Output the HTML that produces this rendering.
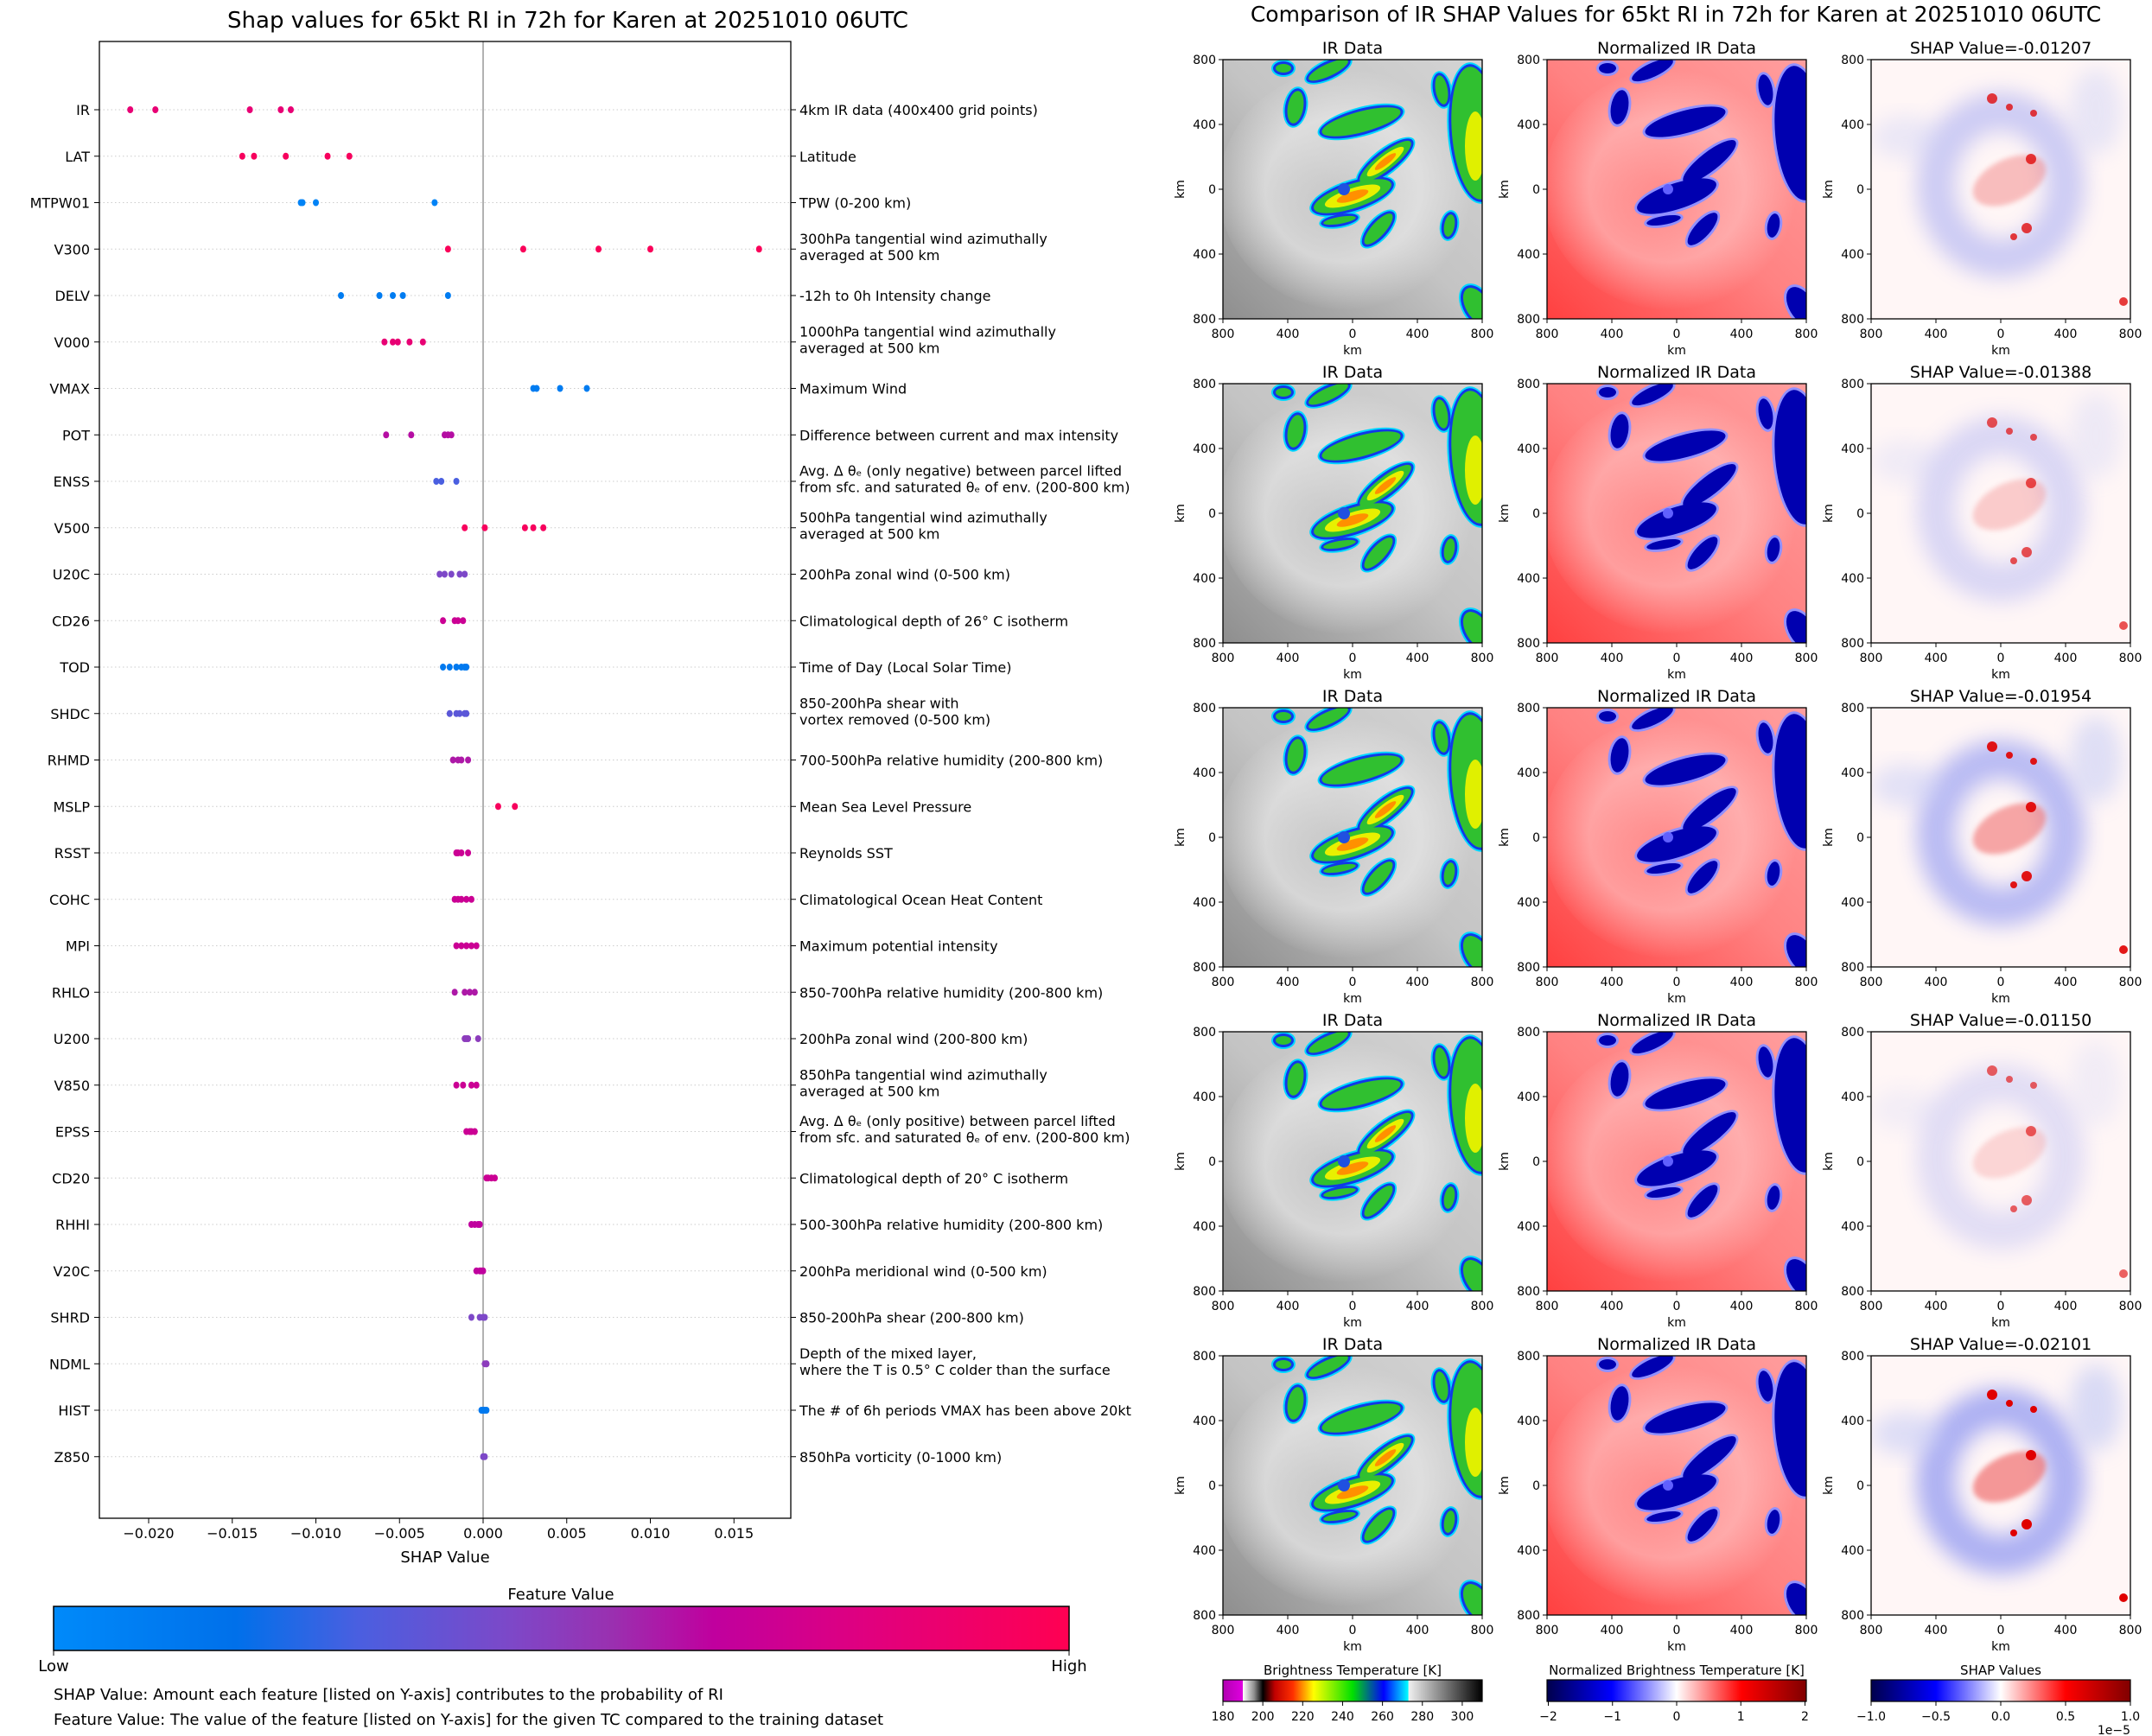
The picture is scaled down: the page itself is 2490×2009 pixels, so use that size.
<!DOCTYPE html>
<html><head><meta charset="utf-8"><style>
body{margin:0;background:#fff;}
svg{display:block;font-family:"DejaVu Sans","Liberation Sans",sans-serif;}
</style></head><body>
<svg id="root" width="2490" height="2009" viewBox="0 0 2490 2009" xmlns="http://www.w3.org/2000/svg">
<defs>
  <linearGradient id="fvgrad" x1="0" x2="1" y1="0" y2="0">
    <stop offset="0" stop-color="#008afa"/><stop offset="0.18" stop-color="#0070ea"/>
    <stop offset="0.3" stop-color="#4a5fe0"/><stop offset="0.45" stop-color="#7d48c8"/>
    <stop offset="0.55" stop-color="#9a30b0"/><stop offset="0.65" stop-color="#c0009e"/>
    <stop offset="0.8" stop-color="#e0007f"/><stop offset="1" stop-color="#ff0052"/>
  </linearGradient>
  <linearGradient id="irbg" x1="1" y1="0" x2="0" y2="1">
    <stop offset="0" stop-color="#d4d4d4"/><stop offset="0.5" stop-color="#c4c4c4"/><stop offset="1" stop-color="#8e8e8e"/>
  </linearGradient>
  <radialGradient id="irswirl" cx="0.48" cy="0.5" r="0.5">
    <stop offset="0" stop-color="#e6e6e6" stop-opacity="0.2"/><stop offset="0.6" stop-color="#e8e8e8" stop-opacity="0.7"/><stop offset="1" stop-color="#e8e8e8" stop-opacity="0"/>
  </radialGradient>
  <linearGradient id="nirbg" x1="1" y1="0" x2="0" y2="1">
    <stop offset="0" stop-color="#ff9e9e"/><stop offset="0.5" stop-color="#ff8282"/><stop offset="1" stop-color="#ff4040"/>
  </linearGradient>
  <radialGradient id="nirswirl" cx="0.48" cy="0.5" r="0.5">
    <stop offset="0" stop-color="#ffc0c0" stop-opacity="0.2"/><stop offset="0.6" stop-color="#ffc4c4" stop-opacity="0.6"/><stop offset="1" stop-color="#ffc4c4" stop-opacity="0"/>
  </radialGradient>
  <linearGradient id="ircb" x1="0" x2="1">
    <stop offset="0" stop-color="#b000b0"/><stop offset="0.077" stop-color="#e000e0"/>
    <stop offset="0.077" stop-color="#ffffff"/><stop offset="0.12" stop-color="#909090"/><stop offset="0.154" stop-color="#000"/>
    <stop offset="0.2" stop-color="#c00000"/><stop offset="0.27" stop-color="#ff3000"/><stop offset="0.35" stop-color="#ffff00"/>
    <stop offset="0.5" stop-color="#00e000"/><stop offset="0.62" stop-color="#0000ff"/><stop offset="0.715" stop-color="#00ffff"/>
    <stop offset="0.716" stop-color="#f0f0f0"/><stop offset="1" stop-color="#000"/>
  </linearGradient>
  <linearGradient id="seis" x1="0" x2="1">
    <stop offset="0" stop-color="#00004c"/><stop offset="0.25" stop-color="#0000ff"/><stop offset="0.5" stop-color="#ffffff"/>
    <stop offset="0.75" stop-color="#ff0000"/><stop offset="1" stop-color="#800000"/>
  </linearGradient>
  <filter id="blur" x="-30%" y="-30%" width="160%" height="160%"><feGaussianBlur stdDeviation="12"/></filter>
  <filter id="blur2" x="-30%" y="-30%" width="160%" height="160%"><feGaussianBlur stdDeviation="3"/></filter>
  <clipPath id="pclip"><rect x="0" y="0" width="300" height="300"/></clipPath>
</defs>

<text x="657" y="32" font-size="26" text-anchor="middle">Shap values for 65kt RI in 72h for Karen at 20251010 06UTC</text>
<g id="summary"></g>

<text x="649" y="1851" font-size="18" text-anchor="middle">Feature Value</text>
<rect x="62" y="1859" width="1175" height="51" fill="url(#fvgrad)" stroke="#000" stroke-width="1.5"/>
<line x1="62" y1="1910" x2="62" y2="1916" stroke="#000"/><line x1="1237" y1="1910" x2="1237" y2="1916" stroke="#000"/>
<text x="62" y="1934" font-size="18" text-anchor="middle">Low</text>
<text x="1237" y="1934" font-size="18" text-anchor="middle">High</text>
<text x="62" y="1967" font-size="18">SHAP Value: Amount each feature [listed on Y-axis] contributes to the probability of RI</text>
<text x="62" y="1996" font-size="18">Feature Value: The value of the feature [listed on Y-axis] for the given TC compared to the training dataset</text>

<text x="1939" y="25" font-size="25" text-anchor="middle">Comparison of IR SHAP Values for 65kt RI in 72h for Karen at 20251010 06UTC</text>
<g id="panels"></g>
<g id="cbars"></g>
</svg>
<script>
// ---- Summary plot data ----
const features = ["IR","LAT","MTPW01","V300","DELV","V000","VMAX","POT","ENSS","V500","U20C","CD26","TOD","SHDC","RHMD","MSLP","RSST","COHC","MPI","RHLO","U200","V850","EPSS","CD20","RHHI","V20C","SHRD","NDML","HIST","Z850"];
const descriptions = [
 ["4km IR data (400x400 grid points)"],["Latitude"],["TPW (0-200 km)"],
 ["300hPa tangential wind azimuthally","averaged at 500 km"],["-12h to 0h Intensity change"],
 ["1000hPa tangential wind azimuthally","averaged at 500 km"],["Maximum Wind"],
 ["Difference between current and max intensity"],
 ["Avg. \u0394 \u03b8\u2091 (only negative) between parcel lifted","from sfc. and saturated \u03b8\u2091 of env. (200-800 km)"],
 ["500hPa tangential wind azimuthally","averaged at 500 km"],["200hPa zonal wind (0-500 km)"],
 ["Climatological depth of 26\u00b0 C isotherm"],["Time of Day (Local Solar Time)"],
 ["850-200hPa shear with","vortex removed (0-500 km)"],["700-500hPa relative humidity (200-800 km)"],
 ["Mean Sea Level Pressure"],["Reynolds SST"],["Climatological Ocean Heat Content"],["Maximum potential intensity"],
 ["850-700hPa relative humidity (200-800 km)"],["200hPa zonal wind (200-800 km)"],
 ["850hPa tangential wind azimuthally","averaged at 500 km"],
 ["Avg. \u0394 \u03b8\u2091 (only positive) between parcel lifted","from sfc. and saturated \u03b8\u2091 of env. (200-800 km)"],
 ["Climatological depth of 20\u00b0 C isotherm"],["500-300hPa relative humidity (200-800 km)"],
 ["200hPa meridional wind (0-500 km)"],["850-200hPa shear (200-800 km)"],
 ["Depth of the mixed layer,","where the T is 0.5\u00b0 C colder than the surface"],
 ["The # of 6h periods VMAX has been above 20kt"],["850hPa vorticity (0-1000 km)"]
];
const shapValues = [
 [-0.0211,-0.0196,-0.01395,-0.0121,-0.0115],
 [-0.0144,-0.0137,-0.0118,-0.0093,-0.0080],
 [-0.0109,-0.0108,-0.0100,-0.0029],
 [-0.0021,0.0024,0.0069,0.0100,0.0165],
 [-0.0085,-0.0062,-0.0054,-0.0048,-0.0021],
 [-0.0059,-0.0054,-0.0051,-0.0044,-0.0036],
 [0.0030,0.0032,0.0046,0.0062],
 [-0.0058,-0.0043,-0.0023,-0.0021,-0.0019],
 [-0.0028,-0.0025,-0.0016],
 [-0.0011,0.0001,0.0025,0.0030,0.0036],
 [-0.0026,-0.0023,-0.0019,-0.0014,-0.0011],
 [-0.0024,-0.0017,-0.0015,-0.0012],
 [-0.0024,-0.0020,-0.0016,-0.0013,-0.0011,-0.0010],
 [-0.0020,-0.0016,-0.0014,-0.0011,-0.0010],
 [-0.0018,-0.0015,-0.0013,-0.0009],
 [0.0009,0.0019],
 [-0.0016,-0.0015,-0.0013,-0.0009],
 [-0.0017,-0.0015,-0.0013,-0.0010,-0.0007],
 [-0.0016,-0.0013,-0.0010,-0.0007,-0.0004],
 [-0.0017,-0.0011,-0.0008,-0.0005],
 [-0.0011,-0.0010,-0.0009,-0.0003],
 [-0.0016,-0.0012,-0.0007,-0.0004],
 [-0.0010,-0.0008,-0.0007,-0.0005],
 [0.0002,0.0003,0.0005,0.0007],
 [-0.0007,-0.0005,-0.0003,-0.0002],
 [-0.0004,-0.0002,-0.0001,0.0],
 [-0.0007,-0.0002,0.0,0.0001],
 [0.0001,0.0002,0.0002],
 [-0.0001,0.0,0.0001,0.0002],
 [0.0,0.0001]
];
const featureValues = [0.85,0.95,0.05,0.97,0.1,0.85,0.1,0.62,0.3,0.95,0.45,0.7,0.12,0.35,0.6,0.95,0.7,0.7,0.7,0.6,0.5,0.7,0.7,0.7,0.65,0.65,0.45,0.5,0.12,0.45];
const xTicks = [-0.020,-0.015,-0.010,-0.005,0.000,0.005,0.010,0.015];
const xTickLabels = ["\u22120.020","\u22120.015","\u22120.010","\u22120.005","0.000","0.005","0.010","0.015"];

const NS="http://www.w3.org/2000/svg";
function mk(tag,attrs,parent){const e=document.createElementNS(NS,tag);for(const k in attrs)e.setAttribute(k,attrs[k]);if(parent)parent.appendChild(e);return e;}

const AX={left:115,right:915,top:48,bottom:1757};
const X0=559, XS=19350;
function xScale(v){return X0+v*XS;}
function yScale(i){return 127+i*53.75;}
const cmapStops=[[0,[0,138,250]],[0.18,[0,112,234]],[0.3,[74,95,224]],[0.45,[125,72,200]],[0.55,[154,48,176]],[0.65,[192,0,158]],[0.8,[224,0,127]],[1,[255,0,82]]];
function cmap(t){for(let i=1;i<cmapStops.length;i++){if(t<=cmapStops[i][0]){const a=cmapStops[i-1],b=cmapStops[i];const f=(t-a[0])/(b[0]-a[0]);const c=a[1].map((v,j)=>Math.round(v+(b[1][j]-v)*f));return `rgb(${c[0]},${c[1]},${c[2]})`;}}return "rgb(255,0,82)";}

const S=document.getElementById('summary');
features.forEach((f,i)=>{
  const y=yScale(i);
  const g=mk('line',{x1:AX.left,x2:AX.right,y1:y,y2:y,stroke:'#cccccc','stroke-width':1,'stroke-dasharray':'1.5,3'},S);
  
  
});
const zl=mk('line',{x1:X0,x2:X0,y1:AX.top,y2:AX.bottom,stroke:'#999','stroke-width':1.5},S);


const frame=mk('rect',{x:AX.left,y:AX.top,width:AX.right-AX.left,height:AX.bottom-AX.top,fill:'none',stroke:'#000','stroke-width':1.3},S);


features.forEach((f,i)=>{
  const y=yScale(i);
  mk('line',{x1:AX.left-6,x2:AX.left,y1:y,y2:y,stroke:'#000'},S);
  mk('line',{x1:AX.right,x2:AX.right+6,y1:y,y2:y,stroke:'#000'},S);
  const t=mk('text',{x:104,y:y+6,'font-size':16,'text-anchor':'end'},S);t.textContent=f;
  
  
  const d=descriptions[i];
  const dt=mk('text',{x:925,'font-size':16},S);
  
  
  d.forEach((line,k)=>{const ts=mk('tspan',{x:925,y:y+6+(k-(d.length-1)/2)*19-(d.length>1?3:0)},dt);ts.textContent=line;});
  shapValues[i].forEach(v=>{
    const c=mk('ellipse',{cx:xScale(v),cy:y,rx:3.5,ry:4,fill:cmap(featureValues[i])},S);
    
    
  });
});
xTicks.forEach((v,k)=>{
  const x=xScale(v);
  mk('line',{x1:x,x2:x,y1:AX.bottom,y2:AX.bottom+6,stroke:'#000'},S);
  const t=mk('text',{x:x,y:1780,'font-size':16,'text-anchor':'middle'},S);t.textContent=xTickLabels[k];
  
  
});
const xl=mk('text',{x:515,y:1808,'font-size':18,'text-anchor':'middle'},S);xl.textContent='SHAP Value';



// ---- IR panels ----
const shapTitles=["SHAP Value=-0.01207","SHAP Value=-0.01388","SHAP Value=-0.01954","SHAP Value=-0.01150","SHAP Value=-0.02101"];
const shapStrength=[0.6,0.45,0.85,0.35,1.0];
const colX=[1415,1790,2165], rowY=[69,444,819,1194,1569];
const blobs=[[150,158,48,15,-18,1],[188,118,38,11,-38,1],[160,72,48,13,-15,0],[292,85,28,78,-5,0],[122,12,26,8,-25,0],[84,55,10,20,10,0],[180,196,24,9,-48,0],[135,186,20,5,-10,0],[294,285,14,24,-30,0],[262,192,7,14,10,0],[70,10,10,6,0,0],[253,35,8,18,-10,0]];
const P=document.getElementById('panels');
function ell(g,b,grow,fill,op){return mk('ellipse',{cx:b[0],cy:b[1],rx:b[2]+grow,ry:b[3]+grow,transform:`rotate(${b[4]} ${b[0]} ${b[1]})`,fill:fill,opacity:op==null?1:op},g);}
function axesDeco(gx,gy,title){
  const t=mk('text',{x:gx+150,y:gy-7,'font-size':19,'text-anchor':'middle'},P);t.textContent=title;
  
  
  mk('rect',{x:gx,y:gy,width:300,height:300,fill:'none',stroke:'#000','stroke-width':1.3},P);
  const labs=["800","400","0","400","800"];
  labs.forEach((l,k)=>{
    const yy=gy+k*75, xx=gx+k*75;
    mk('line',{x1:gx-5,x2:gx,y1:yy,y2:yy,stroke:'#000'},P);
    const a=mk('text',{x:gx-8,y:yy+5,'font-size':14,'text-anchor':'end'},P);a.textContent=l;
    mk('line',{x1:xx,x2:xx,y1:gy+300,y2:gy+305,stroke:'#000'},P);
    const b=mk('text',{x:xx,y:gy+322,'font-size':14,'text-anchor':'middle'},P);b.textContent=l;
  });
  const k1=mk('text',{x:gx+150,y:gy+341,'font-size':14,'text-anchor':'middle'},P);k1.textContent='km';
  const k2=mk('text',{x:gx-45,y:gy+150,'font-size':14,'text-anchor':'middle',transform:`rotate(-90 ${gx-45} ${gy+150})`},P);k2.textContent='km';
}
rowY.forEach((gy,r)=>{
  let gx=colX[0];
  let g=mk('g',{transform:`translate(${gx},${gy})`,'clip-path':'url(#pclip)'},P);
  
  
  mk('rect',{width:300,height:300,fill:'url(#irbg)'},g);
  mk('ellipse',{cx:145,cy:150,rx:150,ry:140,fill:'url(#irswirl)'},g);
  blobs.forEach(b=>ell(g,b,4,'#00d8ff'));
  blobs.forEach(b=>ell(g,b,2,'#1038e8'));
  blobs.forEach(b=>ell(g,b,-1,'#30c030'));
  blobs.filter(b=>b[5]).forEach(b=>{ell(g,[b[0],b[1],b[2]*0.7,b[3]*0.6,b[4]],0,'#e8f000');ell(g,[b[0],b[1],b[2]*0.4,b[3]*0.35,b[4]],0,'#ff9000');});
  ell(g,[292,100,12,40,0],0,'#e0f000');
  mk('circle',{cx:140,cy:150,r:7,fill:'#2050e0'},g);
  axesDeco(gx,gy,'IR Data');
  gx=colX[1];
  g=mk('g',{transform:`translate(${gx},${gy})`,'clip-path':'url(#pclip)'},P);
  
  
  mk('rect',{width:300,height:300,fill:'url(#nirbg)'},g);
  mk('ellipse',{cx:145,cy:150,rx:150,ry:140,fill:'url(#nirswirl)'},g);
  blobs.forEach(b=>ell(g,b,3,'#9090ff'));
  blobs.forEach(b=>ell(g,b,0,'#0000b0'));
  mk('circle',{cx:140,cy:150,r:6,fill:'#6060ff'},g);
  axesDeco(gx,gy,'Normalized IR Data');
  gx=colX[2];
  const s=shapStrength[r];
  g=mk('g',{transform:`translate(${gx},${gy})`,'clip-path':'url(#pclip)'},P);
  
  
  mk('rect',{width:300,height:300,fill:'#fff6f6'},g);
  mk('ellipse',{cx:150,cy:145,rx:75,ry:85,fill:'none',stroke:'#6a78f0','stroke-width':45,opacity:0.55*s,filter:'url(#blur)'},g);
  mk('ellipse',{cx:40,cy:90,rx:40,ry:25,fill:'#c8cdf6',opacity:0.6*s,filter:'url(#blur)'},g);
  mk('ellipse',{cx:260,cy:60,rx:30,ry:50,fill:'#c0c8f4',opacity:0.6*s,filter:'url(#blur)'},g);
  mk('ellipse',{cx:160,cy:140,rx:45,ry:25,transform:'rotate(-25 160 140)',fill:'#f07070',opacity:0.7*s,filter:'url(#blur2)'},g);
  [[140,45,6],[160,55,4],[188,62,4],[180,195,6],[165,205,4],[292,280,5],[185,115,6]].forEach(p=>{
    mk('circle',{cx:p[0],cy:p[1],r:p[2],fill:'#e00000',opacity:Math.min(1,0.4+0.6*s)},g);
  });
  axesDeco(gx,gy,shapTitles[r]);
});

// ---- bottom colorbars ----
const C=document.getElementById('cbars');
const cbTitles=["Brightness Temperature [K]","Normalized Brightness Temperature [K]","SHAP Values"];
const cbFill=["url(#ircb)","url(#seis)","url(#seis)"];
const irTicks=[180,200,220,240,260,280,300];
const nTicks=[-2,-1,0,1,2];
const sTicks=[-1,-0.5,0,0.5,1];
const sTickLabels=["\u22121.0","\u22120.5","0.0","0.5","1.0"];
colX.forEach((gx,k)=>{
  const t=mk('text',{x:gx+150,y:1938,'font-size':15,'text-anchor':'middle'},C);t.textContent=cbTitles[k];
  mk('rect',{x:gx,y:1944,width:300,height:25,fill:cbFill[k],stroke:'#000','stroke-width':1.2},C);
  let ticks,pos,labs;
  if(k===0){ticks=irTicks;pos=v=>gx+(v-180)/130*300;labs=ticks.map(String);}
  else if(k===1){ticks=nTicks;pos=v=>gx+1.5+(v+2)/4*297;labs=ticks.map(v=>v<0?'\u2212'+(-v):String(v));}
  else {ticks=sTicks;pos=v=>gx+(v+1)/2*300;labs=sTickLabels;}
  ticks.forEach((v,i)=>{const x=pos(v);mk('line',{x1:x,x2:x,y1:1969,y2:1974,stroke:'#000'},C);
    const tl=mk('text',{x:x,y:1991,'font-size':14,'text-anchor':'middle'},C);tl.textContent=labs[i];});
});
const ex=mk('text',{x:2465,y:2007,'font-size':14,'text-anchor':'end'},C);ex.textContent='1e\u22125';
</script>
</body></html>
